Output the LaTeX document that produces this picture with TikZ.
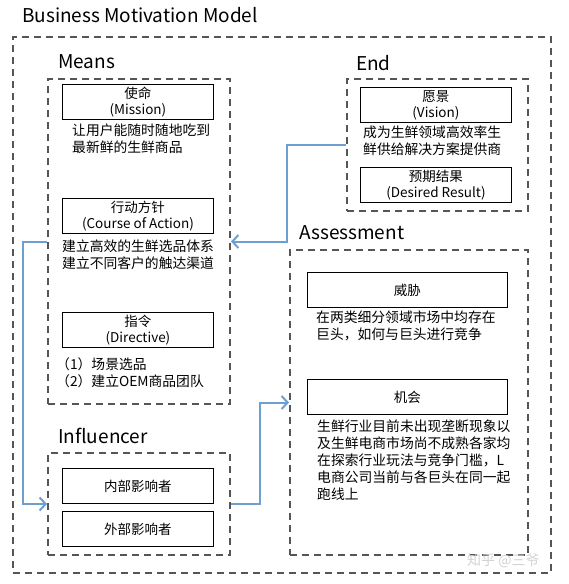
\documentclass[tikz,border=0pt]{standalone}
\usepackage{fontspec}
\setmainfont{Noto Sans CJK SC}
\usetikzlibrary{arrows.meta}
\definecolor{gris}{HTML}{555555}
\definecolor{azul}{HTML}{6F9FD0}
\tikzset{
  grupo/.style={draw=gris, line width=2pt, dash pattern=on 7pt off 5pt, anchor=north west, inner sep=0pt},
  caja/.style={draw, line width=0.9pt, minimum width=151pt, minimum height=35pt, anchor=north west,
    align=center, inner sep=0pt, font=\fontsize{13.5}{16}\selectfont},
  titulo/.style={anchor=west, inner sep=0pt, font=\fontsize{19}{20}\selectfont},
  texto/.style={anchor=north west, align=left, inner sep=0pt, font=\fontsize{13.8}{17}\selectfont},
  enlace/.style={draw=azul, line width=2pt, -{Straight Barb[length=6pt,width=13pt,line width=2pt]}}
}
\begin{document}
\begin{tikzpicture}[x=1pt, y=-1pt]
  \useasboundingbox (0,0) rectangle (569,584);

  % Marco general
  \node[titulo] (tit) at (22,15) {Business Motivation Model};
  \node[grupo, minimum width=538pt, minimum height=536pt] (marco) at (12,36) {};

  % Means
  \node[titulo] (tmeans) at (58,62) {Means};
  \node[grupo, minimum width=182pt, minimum height=325pt] (means) at (47,78) {};
  \node[caja] (mision) at (62,84) {使命\\(Mission)};
  \node[texto] (tmision) at (72,124) {让用户能随时随地吃到\\最新鲜的生鲜商品};
  \node[caja] (accion) at (62,198) {行动方针\\(Course of Action)};
  \node[texto] (taccion) at (62,240) {建立高效的生鲜选品体系\\建立不同客户的触达渠道};
  \node[caja] (directiva) at (62,312) {指令\\(Directive)};
  \node[texto] (tdirectiva) at (56,357) {（1）场景选品\\（2）建立OEM商品团队};

  % End
  \node[titulo] (tend) at (356,63) {End};
  \node[grupo, minimum width=181pt, minimum height=132pt] (fin) at (346,78) {};
  \node[caja] (vision) at (360,87) {愿景\\(Vision)};
  \node[texto] (tvision) at (363,126) {成为生鲜领域高效率生\\鲜供给解决方案提供商};
  \node[caja] (resultado) at (360,167) {预期结果\\(Desired Result)};

  % Assessment
  \node[titulo] (tassess) at (299,233) {Assessment};
  \node[grupo, minimum width=238pt, minimum height=305pt] (assess) at (289,249) {};
  \node[caja, minimum width=200pt] (amenaza) at (307,272) {威胁};
  \node[texto] (tamenaza) at (316,311) {在两类细分领域市场中均存在\\巨头，如何与巨头进行竞争};
  \node[caja, minimum width=200pt] (oportunidad) at (307,379) {机会};
  \node[texto] (toportunidad) at (317,420) {生鲜行业目前未出现垄断现象以\\及生鲜电商市场尚不成熟各家均\\在探索行业玩法与竞争门槛，L\\电商公司当前与各巨头在同一起\\跑线上};

  % Influencer
  \node[titulo] (tinflu) at (58,436) {Influencer};
  \node[grupo, minimum width=182pt, minimum height=102pt] (influ) at (47,452) {};
  \node[caja] (interno) at (62,468) {内部影响者};
  \node[caja] (externo) at (62,511) {外部影响者};

  % Conexiones
  \draw[enlace] (fin.west) -- ++(-59,0) |- (means.east);
  \draw[enlace] (means.west) -- ++(-24,0) |- (influ.west);
  \draw[enlace] (influ.east) -- ++(29,0) |- (assess.west);

  % Marca de agua
  \node[anchor=west, inner sep=0pt, text=gray!35, font=\fontsize{14}{16}\selectfont] (marca) at (467,561) {知乎 @三爷};
\end{tikzpicture}
\end{document}
